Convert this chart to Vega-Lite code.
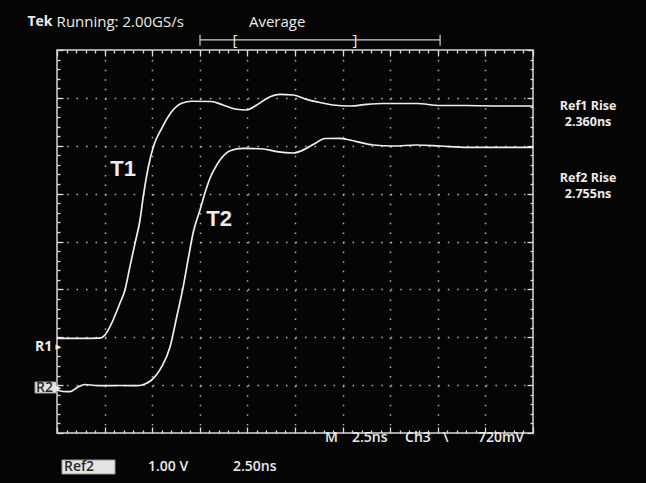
{
  "$schema": "https://vega.github.io/schema/vega-lite/v6.json",
  "width": 476,
  "height": 383,
  "autosize": "none",
  "padding": {"left": 57, "top": 50, "right": 113, "bottom": 50},
  "background": "#050505",
  "config": {
    "view": {"stroke": "#d8d8d8", "strokeWidth": 1.5},
    "text": {"font": "Open Sans", "color": "#ececec"}
  },
  "datasets": {
    "t1": [
      {"t": 0, "v": 1.978}, {"t": 1.2, "v": 1.975}, {"t": 2.26, "v": 1.98}, {"t": 2.5, "v": 2.04}, {"t": 2.78, "v": 2.22},
      {"t": 3.31, "v": 2.715}, {"t": 3.57, "v": 2.987}, {"t": 3.83, "v": 3.474}, {"t": 4.1, "v": 3.969},
      {"t": 4.36, "v": 4.449}, {"t": 4.53, "v": 4.936}, {"t": 4.8, "v": 5.562}, {"t": 5.06, "v": 5.98},
      {"t": 5.5, "v": 6.365}, {"t": 6.02, "v": 6.711}, {"t": 6.55, "v": 6.887}, {"t": 7.08, "v": 6.929},
      {"t": 8.09, "v": 6.924}, {"t": 8.72, "v": 6.851}, {"t": 9.44, "v": 6.762}, {"t": 9.96, "v": 6.747},
      {"t": 10.49, "v": 6.851}, {"t": 11.19, "v": 7.025}, {"t": 11.71, "v": 7.075}, {"t": 12.41, "v": 7.06},
      {"t": 13.11, "v": 6.97}, {"t": 13.81, "v": 6.904}, {"t": 14.5, "v": 6.851}, {"t": 15.39, "v": 6.83},
      {"t": 16.27, "v": 6.866}, {"t": 17.12, "v": 6.883}, {"t": 18.89, "v": 6.883}, {"t": 20.12, "v": 6.841},
      {"t": 21.52, "v": 6.841}, {"t": 23.27, "v": 6.83}, {"t": 25, "v": 6.83}
    ],
    "t2": [
      {"t": 0, "v": 0.898}, {"t": 0.32, "v": 0.867}, {"t": 0.68, "v": 0.863}, {"t": 1.1, "v": 0.961},
      {"t": 1.47, "v": 1.013}, {"t": 2.0, "v": 0.992}, {"t": 2.52, "v": 0.988}, {"t": 3.31, "v": 0.992},
      {"t": 4.25, "v": 0.988}, {"t": 4.62, "v": 1.024}, {"t": 4.97, "v": 1.107}, {"t": 5.5, "v": 1.385},
      {"t": 5.94, "v": 1.803}, {"t": 6.29, "v": 2.429}, {"t": 6.63, "v": 3.056}, {"t": 6.9, "v": 3.655},
      {"t": 7.16, "v": 4.198}, {"t": 7.51, "v": 4.658}, {"t": 7.77, "v": 5.013}, {"t": 8.04, "v": 5.326},
      {"t": 8.3, "v": 5.535}, {"t": 8.56, "v": 5.702}, {"t": 9.09, "v": 5.897}, {"t": 9.79, "v": 5.947},
      {"t": 10.84, "v": 5.932}, {"t": 11.54, "v": 5.876}, {"t": 12.41, "v": 5.849}, {"t": 13.11, "v": 5.947},
      {"t": 13.55, "v": 6.047}, {"t": 14.08, "v": 6.151}, {"t": 14.86, "v": 6.156}, {"t": 15.74, "v": 6.085},
      {"t": 16.61, "v": 6.016}, {"t": 17.66, "v": 5.995}, {"t": 18.89, "v": 6.016}, {"t": 20.12, "v": 5.995},
      {"t": 21.52, "v": 5.968}, {"t": 23.27, "v": 5.968}, {"t": 25, "v": 5.968}
    ],
    "bracket": [
      {"t": 7.51, "t2": 20.12, "v": 8.21, "v2": 8.21},
      {"t": 7.51, "t2": 7.51, "v": 8.09, "v2": 8.32},
      {"t": 20.12, "t2": 20.12, "v": 8.09, "v2": 8.32}
    ],
    "bracketText": [
      {"t": 9.35, "v": 8.21, "text": "["},
      {"t": 15.65, "v": 8.21, "text": "]"}
    ],
    "header": [
      {"t": -0.02, "v": 8.585, "text": "Running: 2.00GS/s"},
      {"t": 10.08, "v": 8.585, "text": "Average"}
    ],
    "logo": [
      {"t": -1.55, "v": 8.585, "text": "Tek"}
    ],
    "rise": [
      {"t": 27.89, "v": 6.83, "text": "Ref1 Rise"},
      {"t": 27.89, "v": 6.5, "text": "2.360ns"},
      {"t": 27.89, "v": 5.33, "text": "Ref2 Rise"},
      {"t": 27.89, "v": 5.0, "text": "2.755ns"}
    ],
    "status": [
      {"t": 14.08, "v": -0.104, "text": "M"},
      {"t": 15.49, "v": -0.104, "text": "2.5ns"},
      {"t": 18.28, "v": -0.104, "text": "Ch3"},
      {"t": 20.27, "v": -0.104, "text": "\\"},
      {"t": 22.11, "v": -0.104, "text": "720mV"},
      {"t": 4.78, "v": -0.71, "text": "1.00 V"},
      {"t": 9.24, "v": -0.71, "text": "2.50ns"}
    ],
    "boxes": [
      {"t": 0.263, "t2": 3.046, "v": -0.564, "v2": -0.856},
      {"t": -1.155, "t2": -0.021, "v": 1.065, "v2": 0.835}
    ],
    "boxText": [
      {"t": 0.37, "v": -0.71, "text": "Ref2"},
      {"t": -1.1, "v": 0.95, "text": "R2"}
    ],
    "refLabel": [
      {"t": -1.15, "v": 1.796, "text": "R1"}
    ],
    "arrows": [
      {"t": 0.06, "v": 1.796, "text": "▸"},
      {"t": 0.06, "v": 0.95, "text": "▸"}
    ],
    "traceLabels": [
      {"t": 3.47, "v": 5.514, "text": "T1"},
      {"t": 8.51, "v": 4.47, "text": "T2"}
    ]
  },
  "encoding": {
    "x": {"field": "t", "type": "quantitative", "scale": {"domain": [0, 25], "nice": false, "zero": false}, "axis": null},
    "y": {"field": "v", "type": "quantitative", "scale": {"domain": [0, 8], "nice": false, "zero": false}, "axis": null}
  },
  "layer": [
    {
      "data": {"name": "t1"},
      "mark": {"type": "line", "interpolate": "monotone", "color": "#efefef", "strokeWidth": 1.7},
      "encoding": {
        "x": {
          "field": "t", "type": "quantitative",
          "scale": {"domain": [0, 25], "nice": false, "zero": false},
          "axis": {
            "orient": "bottom", "title": null, "labels": false, "domain": false,
            "values": [0,0.5,1,1.5,2,2.5,3,3.5,4,4.5,5,5.5,6,6.5,7,7.5,8,8.5,9,9.5,10,10.5,11,11.5,12,12.5,13,13.5,14,14.5,15,15.5,16,16.5,17,17.5,18,18.5,19,19.5,20,20.5,21,21.5,22,22.5,23,23.5,24,24.5,25],
            "grid": true, "gridColor": "#cfcfcf", "gridWidth": 1.5, "gridDash": [1.5, 8.075],
            "gridOpacity": {"condition": {"test": "abs(datum.value/2.5 - round(datum.value/2.5)) < 0.01 && datum.value > 0.1 && datum.value < 24.9", "value": 0.85}, "value": 0},
            "tickColor": "#dddddd", "tickWidth": 1.3,
            "tickSize": {"condition": {"test": "abs(datum.value/2.5 - round(datum.value/2.5)) < 0.01", "value": -6}, "value": -3}
          }
        },
        "y": {
          "field": "v", "type": "quantitative",
          "scale": {"domain": [0, 8], "nice": false, "zero": false},
          "axis": {
            "orient": "left", "title": null, "labels": false, "domain": false,
            "values": [0,0.2,0.4,0.6,0.8,1,1.2,1.4,1.6,1.8,2,2.2,2.4,2.6,2.8,3,3.2,3.4,3.6,3.8,4,4.2,4.4,4.6,4.8,5,5.2,5.4,5.6,5.8,6,6.2,6.4,6.6,6.8,7,7.2,7.4,7.6,7.8,8],
            "grid": true, "gridColor": "#cfcfcf", "gridWidth": 1.5, "gridDash": [1.5, 8.02],
            "gridOpacity": {"condition": {"test": "abs(datum.value - round(datum.value)) < 0.01 && datum.value > 0.1 && datum.value < 7.9", "value": 0.85}, "value": 0},
            "tickColor": "#dddddd", "tickWidth": 1.3,
            "tickSize": {"condition": {"test": "abs(datum.value - round(datum.value)) < 0.01", "value": -6}, "value": -3}
          }
        }
      }
    },
    {
      "data": {"name": "t2"},
      "mark": {"type": "line", "interpolate": "monotone", "color": "#efefef", "strokeWidth": 1.7},
      "encoding": {
        "x": {
          "field": "t", "type": "quantitative",
          "scale": {"domain": [0, 25], "nice": false, "zero": false},
          "axis": {
            "orient": "top", "title": null, "labels": false, "domain": false, "grid": false,
            "values": [0,0.5,1,1.5,2,2.5,3,3.5,4,4.5,5,5.5,6,6.5,7,7.5,8,8.5,9,9.5,10,10.5,11,11.5,12,12.5,13,13.5,14,14.5,15,15.5,16,16.5,17,17.5,18,18.5,19,19.5,20,20.5,21,21.5,22,22.5,23,23.5,24,24.5,25],
            "tickColor": "#dddddd", "tickWidth": 1.3,
            "tickSize": {"condition": {"test": "abs(datum.value/2.5 - round(datum.value/2.5)) < 0.01", "value": -6}, "value": -3}
          }
        },
        "y": {
          "field": "v", "type": "quantitative",
          "scale": {"domain": [0, 8], "nice": false, "zero": false},
          "axis": {
            "orient": "right", "title": null, "labels": false, "domain": false, "grid": false,
            "values": [0,0.2,0.4,0.6,0.8,1,1.2,1.4,1.6,1.8,2,2.2,2.4,2.6,2.8,3,3.2,3.4,3.6,3.8,4,4.2,4.4,4.6,4.8,5,5.2,5.4,5.6,5.8,6,6.2,6.4,6.6,6.8,7,7.2,7.4,7.6,7.8,8],
            "tickColor": "#dddddd", "tickWidth": 1.3,
            "tickSize": {"condition": {"test": "abs(datum.value - round(datum.value)) < 0.01", "value": -6}, "value": -3}
          }
        }
      }
    },
    {
      "data": {"name": "bracket"},
      "mark": {"type": "rule", "color": "#d0d0d0", "strokeWidth": 1.2},
      "encoding": {"x2": {"field": "t2"}, "y2": {"field": "v2"}}
    },
    {
      "data": {"name": "bracketText"},
      "mark": {"type": "text", "fontSize": 15, "align": "center", "baseline": "middle"},
      "encoding": {"text": {"field": "text"}}
    },
    {
      "data": {"name": "header"},
      "mark": {"type": "text", "fontSize": 15, "align": "left", "baseline": "middle"},
      "encoding": {"text": {"field": "text"}}
    },
    {
      "data": {"name": "logo"},
      "mark": {"type": "text", "fontSize": 14, "fontWeight": "bold", "align": "left", "baseline": "middle"},
      "encoding": {"text": {"field": "text"}}
    },
    {
      "data": {"name": "rise"},
      "mark": {"type": "text", "fontSize": 12.5, "fontWeight": "bold", "align": "center", "baseline": "middle"},
      "encoding": {"text": {"field": "text"}}
    },
    {
      "data": {"name": "status"},
      "mark": {"type": "text", "fontSize": 14, "fontWeight": 600, "align": "left", "baseline": "middle"},
      "encoding": {"text": {"field": "text"}}
    },
    {
      "data": {"name": "boxes"},
      "mark": {"type": "rect", "color": "#e4e4e4", "stroke": "#9a9a9a", "strokeWidth": 1},
      "encoding": {"x2": {"field": "t2"}, "y2": {"field": "v2"}}
    },
    {
      "data": {"name": "boxText"},
      "mark": {"type": "text", "fontSize": 14, "fontWeight": 600, "align": "left", "baseline": "middle", "color": "#2a2a2a"},
      "encoding": {"text": {"field": "text"}}
    },
    {
      "data": {"name": "refLabel"},
      "mark": {"type": "text", "fontSize": 14, "fontWeight": "bold", "align": "left", "baseline": "middle"},
      "encoding": {"text": {"field": "text"}}
    },
    {
      "data": {"name": "arrows"},
      "mark": {"type": "text", "fontSize": 11, "font": "DejaVu Sans", "align": "center", "baseline": "middle"},
      "encoding": {"text": {"field": "text"}}
    },
    {
      "data": {"name": "traceLabels"},
      "mark": {"type": "text", "fontSize": 22, "fontWeight": "bold", "font": "Liberation Sans", "align": "center", "baseline": "middle"},
      "encoding": {"text": {"field": "text"}}
    }
  ],
  "resolve": {"axis": {"x": "independent", "y": "independent"}}
}
